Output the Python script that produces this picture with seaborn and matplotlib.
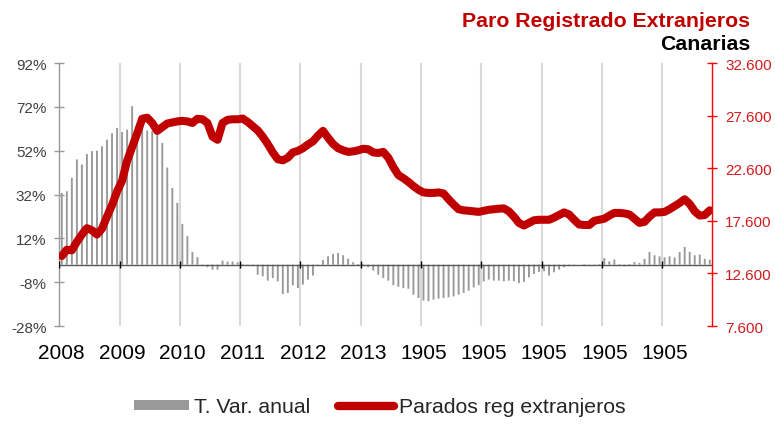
import matplotlib
matplotlib.use("Agg")
import matplotlib.pyplot as plt
from matplotlib.patches import Patch
from matplotlib.lines import Line2D
from matplotlib.ticker import FuncFormatter
import numpy as np
import pandas as pd
import seaborn as sns

# monthly series, Jan 2008 - Oct 2018
var_anual = [32.7, 33.5, 39.6, 48.0, 45.7, 50.5, 51.8, 52.0, 54.0, 57.0, 60.0, 62.4,
             60.5, 61.6, 72.3, 64.0, 63.0, 61.2, 60.9, 59.4, 55.5, 44.3, 35.0, 28.2,
             18.6, 13.0, 5.8, 3.4, -0.7, -1.2, -2.3, -2.3, 1.8, 1.4, 1.4, 1.1,
             0.3, -0.3, -0.7, -4.6, -5.3, -7.3, -6.1, -7.6, -13.4, -12.9, -9.4, -10.7,
             -9.1, -6.8, -5.0, -0.3, 2.1, 3.8, 4.9, 5.3, 4.3, 2.7, 1.1, 0.3,
             0.3, -1.2, -2.7, -4.6, -6.1, -7.3, -9.4, -10.1, -10.7, -11.0, -13.7, -15.2,
             -16.4, -16.7, -16.0, -15.5, -15.2, -14.9, -14.5, -13.7, -12.9, -11.9, -10.4, -9.4,
             -7.6, -6.8, -7.3, -7.3, -7.6, -7.3, -7.6, -8.4, -7.9, -5.8, -4.3, -3.3,
             -3.0, -5.0, -3.5, -2.3, -1.2, -0.7, -0.3, 0.0, 0.3, -0.3, -0.3, 0.3,
             3.0, 1.5, 2.3, 0.3, -0.8, 0.3, 1.2, 0.8, 2.7, 5.8, 4.3, 3.8,
             3.3, 3.8, 3.3, 5.8, 8.1, 5.8, 4.3, 4.6, 2.7, 2.3]

parados = [14250, 14850, 14800, 15600, 16300, 16900, 16700, 16300, 16850, 18000, 19100, 20400,
           21400, 23300, 24600, 25900, 27300, 27400, 26900, 26150, 26500, 26850, 26950, 27050,
           27100, 27050, 26900, 27300, 27250, 26900, 25600, 25300, 26900, 27200, 27250, 27250,
           27320, 27000, 26600, 26200, 25600, 24900, 24100, 23450, 23350, 23600, 24100, 24250,
           24500, 24850, 25150, 25700, 26150, 25500, 24900, 24500, 24300, 24150, 24200, 24300,
           24450, 24400, 24100, 24050, 24150, 23600, 22700, 21950, 21650, 21300, 20900, 20550,
           20300, 20250, 20250, 20300, 20200, 19650, 19150, 18700, 18600, 18550, 18500, 18450,
           18550, 18650, 18700, 18750, 18780, 18500, 18000, 17400, 17150, 17400, 17650, 17700,
           17700, 17700, 17900, 18150, 18400, 18200, 17700, 17250, 17200, 17200, 17600, 17700,
           17800, 18100, 18350, 18350, 18300, 18200, 17800, 17400, 17500, 18000, 18400, 18400,
           18450, 18700, 19000, 19300, 19650, 19200, 18500, 18100, 18150, 18600]

year_labels = ['2008', '2009', '2010', '2011', '2012', '2013',
               '1905', '1905', '1905', '1905', '1905']

df = pd.DataFrame({'mes': np.arange(len(parados)), 'var': var_anual, 'parados': parados})

sns.set_style("white")
plt.rcParams['font.family'] = ['Liberation Sans', 'DejaVu Sans']

fig = plt.figure(figsize=(7.75, 4.39), dpi=100)
ax = fig.add_axes([0.0765, 0.2551, 0.8426, 0.5991])

year_pos = np.arange(len(year_labels)) * 12
ax.vlines(year_pos[1:] - 0.5, -28, 92, color='#d9d9d9', lw=1.5, zorder=0)

sns.barplot(data=df, x='mes', y='var', native_scale=True, color='#999999',
            saturation=1, width=0.38, errorbar=None, ax=ax, zorder=2,
            linewidth=0, snap=False)
ax.axhline(0, color='#595959', lw=1, zorder=3)
ax.vlines(year_pos - 0.5, -1.6, 1.6, color='black', lw=1, zorder=3)

ax.set_xlim(-0.5, len(parados) - 0.5)
ax.set_ylim(-28, 92)
ax.set_yticks(np.arange(-28, 93, 20))
ax.yaxis.set_major_formatter(FuncFormatter(lambda v, p: f"{v:.0f}%"))
ax.set_xticks(year_pos)
ax.set_xticklabels(year_labels)
ax.tick_params(axis='x', length=0, pad=12, labelsize=15, labelcolor='black')
ax.tick_params(axis='y', direction='inout', length=6.5, width=1, color='#999999',
               pad=6, labelsize=11, labelcolor='#404040', left=True)
ax.set_xlabel('')
ax.set_ylabel('')
for s in ['top', 'right', 'bottom']:
    ax.spines[s].set_visible(False)
ax.spines['left'].set_color('#999999')
ax.spines['left'].set_linewidth(1)

ax2 = ax.twinx()
sns.lineplot(data=df, x='mes', y='parados', color='#c00000', lw=5.8,
             solid_capstyle='round', solid_joinstyle='round', ax=ax2)
ax2.set_ylim(7600, 32600)
ax2.set_yticks(np.arange(7600, 32601, 5000))
ax2.yaxis.set_major_formatter(FuncFormatter(lambda v, p: f"{v:,.0f}".replace(',', '.')))
ax2.tick_params(axis='y', direction='inout', length=6.5, width=1, color='#ff0000',
                pad=6, labelsize=11, labelcolor='#d01c1c', right=True)
ax2.set_xlabel('')
ax2.set_ylabel('')
for s in ['top', 'left', 'bottom']:
    ax2.spines[s].set_visible(False)
ax2.spines['right'].set_color('#ff0000')
ax2.spines['right'].set_linewidth(1)
ax2.set_xlim(-0.5, len(parados) - 0.5)

fig.text(0.968, 1 - 27 / 439, 'Paro Registrado Extranjeros', ha='right', va='baseline',
         fontsize=15.3, fontweight='bold', color='#c00000')
fig.text(0.968, 1 - 50 / 439, 'Canarias', ha='right', va='baseline',
         fontsize=15.3, fontweight='bold', color='black')

handles = [Patch(facecolor='#999999', edgecolor='none'),
           Line2D([0], [0], color='#c00000', lw=6, solid_capstyle='round')]
fig.legend(handles, ['T. Var. anual', 'Parados reg extranjeros'], loc='center',
           bbox_to_anchor=(0.49, 1 - 408 / 439), ncol=2, frameon=False, fontsize=15.3,
           handlelength=2.6, handleheight=0.35, handletextpad=0.25, columnspacing=1.3)

fig.savefig('out.png', dpi=100)
